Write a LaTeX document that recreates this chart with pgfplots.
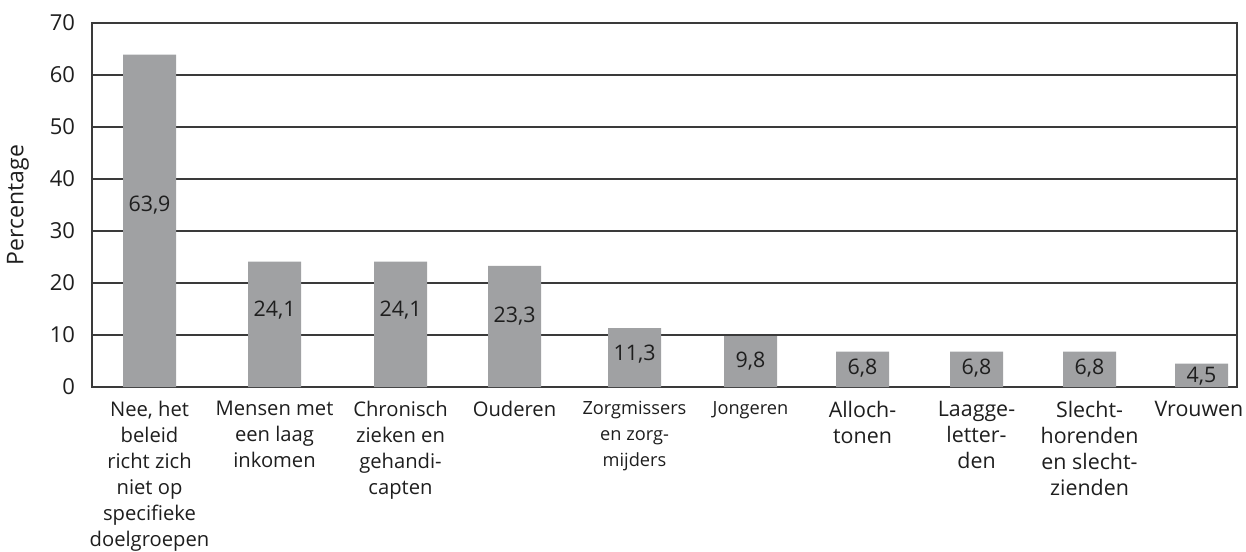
\documentclass[border=0pt]{standalone}
\usepackage{fontspec}
\setmainfont{Open Sans}
\usepackage{pgfplots}
\pgfplotsset{compat=1.18}
\usepackage{pgfplotstable}
\definecolor{barg}{HTML}{A0A1A3}
\definecolor{gridc}{HTML}{3A3A3A}
\definecolor{txt}{HTML}{1E1E1E}
\newcommand\fa{\fontsize{10.1}{13.3}\selectfont}
\newcommand\fb{\fontsize{9.1}{13}\selectfont}
\newcommand\fc{\fontsize{10.7}{13}\selectfont}

\pgfplotstableread{
x y ly lab
149.5 63.9 34.9 63,9
274.5 24.1 14.8 24,1
400.5 24.1 14.8 24,1
514.5 23.3 13.7 23,3
634.5 11.3 6.3 11,3
750.5 9.8 4.9 9,8
862.5 6.8 3.65 6,8
976.5 6.8 3.65 6,8
1089.5 6.8 3.65 6,8
1201.5 4.5 2.1 4,5
}\data

\begin{document}
\begin{tikzpicture}
\useasboundingbox (-46pt,-82pt) rectangle (577pt,193.5pt);
\begin{axis}[
  anchor=south west, at={(0,0)},
  scale only axis, width=572.5pt, height=182pt,
  xmin=92, xmax=1237, ymin=0, ymax=70,
  ytick={0,10,...,70},
  ymajorgrids,
  major grid style={gridc, line width=0.6pt},
  axis line style={gridc, line width=0.6pt},
  major tick length=0pt,
  tick style={draw=none},
  /pgf/number format/assume math mode=true,
  yticklabel style={font=\fontsize{11}{12}\selectfont, text=txt, xshift=-5pt},
  ylabel={Percentage},
  ylabel style={at={(axis description cs:-0.0646,0.5)}, anchor=center, font=\fontsize{11.5}{12}\selectfont, text=txt},
  xtick={149.5,274.5,400.5,514.5,634.5,750.5,862.5,976.5,1089.5,1199},
  xticklabels={
    {\fa Nee, het\\\fa beleid\\\fa richt zich\\\fa niet op\\\fa specifieke\\\fa doelgroepen},
    {\fa Mensen met\\\fa een laag\\\fa inkomen},
    {\fa Chronisch\\\fa zieken en\\\fa gehandi-\\\fa capten},
    {\fa Ouderen},
    {\fb Zorgmissers\\\fb en zorg-\\\fb mijders},
    {\fb Jongeren},
    {\fc Alloch-\\\fc tonen},
    {\fc Laagge-\\\fc letter-\\\fc den},
    {\fc Slecht-\\\fc horenden\\\fc en slecht-\\\fc zienden},
    {\fc Vrouwen}},
  xticklabel style={align=center, anchor=north, text=txt, font=\fontsize{10}{13}\selectfont, yshift=-6pt, inner sep=1pt},
]
\addplot[ybar, bar width=26.5pt, fill=barg, draw=none] table[x=x, y=y] {\data};
\addplot[draw=none, mark=none, nodes near coords, point meta=explicit symbolic,
  nodes near coords style={anchor=center, font=\fontsize{10.7}{12}\selectfont, text=txt}]
  table[x=x, y=ly, meta=lab] {\data};
\end{axis}
\end{tikzpicture}
\end{document}
